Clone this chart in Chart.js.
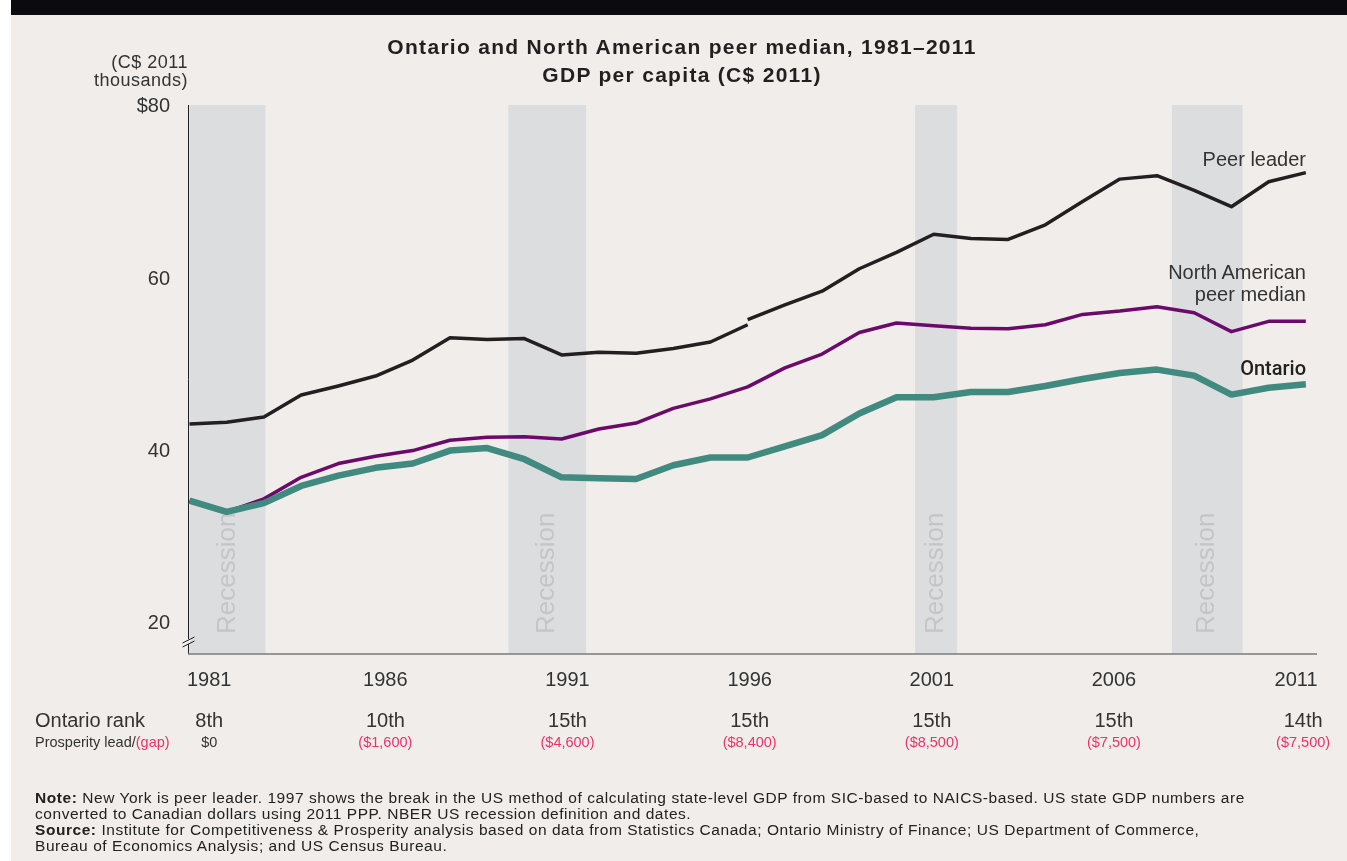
<!DOCTYPE html>
<html>
<head>
<meta charset="utf-8">
<script src="https://cdn.jsdelivr.net/npm/chart.js@4.4.1/dist/chart.umd.min.js"></script>
<style>
  html,body{margin:0;padding:0;background:#fff;}
  #wrap{position:relative;width:1347px;height:861px;overflow:hidden;font-family:"Liberation Sans",Arial,sans-serif;color:#333;}
  .abs{position:absolute;white-space:nowrap;}
  .pink{color:#e8336d;}
</style>
</head>
<body>
<div id="wrap">
  <div class="abs" style="left:11px;top:0;width:1336px;height:15px;background:#0a0a0f;"></div>
  <div class="abs" style="left:11px;top:15px;width:1336px;height:846px;background:#f0edea;"></div>
  <canvas id="c" width="1347" height="861" style="position:absolute;left:0;top:0;"></canvas>

  <div class="abs" style="left:0;top:33px;width:1364px;text-align:center;font-weight:bold;font-size:21px;letter-spacing:1.3px;line-height:28px;color:#231f20;">Ontario and North American peer median, 1981–2011<br>GDP per capita (C$ 2011)</div>
  <div class="abs" style="left:0;top:53px;width:188px;text-align:right;font-size:18px;letter-spacing:0.5px;line-height:18px;color:#333;">(C$ 2011<br>thousands)</div>

  <div class="abs" style="left:900px;top:147px;width:406px;text-align:right;font-size:20px;line-height:24px;color:#333;">Peer leader</div>
  <div class="abs" style="left:900px;top:261px;width:406px;text-align:right;font-size:20px;line-height:22px;color:#333;">North American<br>peer median</div>
  <div class="abs" style="left:900px;top:356px;width:406px;text-align:right;font-size:20px;line-height:24px;color:#222;font-family:Roboto,'Liberation Sans',sans-serif;font-weight:500;">Ontario</div>

  <div class="abs" style="left:35px;top:708px;font-size:20px;line-height:24px;color:#333;">Ontario rank</div>
  <div class="abs" style="left:35px;top:732px;font-size:14.5px;line-height:20px;color:#333;">Prosperity lead/<span class="pink">(gap)</span></div>

  <div class="abs" style="left:35px;top:790px;font-size:15.5px;letter-spacing:0.55px;line-height:16px;color:#222;"><b>Note:</b> New York is peer leader. 1997 shows the break in the US method of calculating state-level GDP from SIC-based to NAICS-based. US state GDP numbers are<br>converted to Canadian dollars using 2011 PPP. NBER US recession definition and dates.<br><b>Source:</b> Institute for Competitiveness &amp; Prosperity analysis based on data from Statistics Canada; Ontario Ministry of Finance; US Department of Commerce,<br>Bureau of Economics Analysis; and US Census Bureau.</div>
</div>
<script>
// ---------- data ----------
const years = [1981,1982,1983,1984,1985,1986,1987,1988,1989,1990,1991,1992,1993,1994,1995,1996,1997,1998,1999,2000,2001,2002,2003,2004,2005,2006,2007,2008,2009,2010,2011];
const ontario = [34.3,33.0,34.0,36.0,37.2,38.1,38.6,40.1,40.4,39.1,37.0,36.9,36.8,38.4,39.3,39.3,40.6,41.9,44.4,46.3,46.3,46.9,46.9,47.6,48.4,49.1,49.5,48.8,46.6,47.4,47.8];
const peerMedian = [34.3,33.0,34.5,37.0,38.6,39.45,40.1,41.3,41.65,41.7,41.45,42.6,43.3,45.0,46.1,47.5,49.7,51.3,53.8,54.9,54.6,54.3,54.25,54.7,55.9,56.3,56.8,56.1,53.9,55.1,55.1];
const yearsSIC = [1981,1982,1983,1984,1985,1986,1987,1988,1989,1990,1991,1992,1993,1994,1995,1996];
const peerLeaderSIC = [43.2,43.4,44.0,46.55,47.6,48.75,50.6,53.2,53.0,53.1,51.2,51.5,51.4,51.95,52.7,54.7];
const yearsNAICS = [1996,1997,1998,1999,2000,2001,2002,2003,2004,2005,2006,2007,2008,2009,2010,2011];
const peerLeaderNAICS = [55.3,57.0,58.6,61.2,63.1,65.2,64.7,64.6,66.3,69.0,71.6,72.0,70.3,68.4,71.3,72.35];
const recessionStart = [1981.0,1989.57,2000.5,2007.4];
const recessionEnd = [1983.04,1991.66,2001.63,2009.3];
const xTickYears = [1981,1986,1991,1996,2001,2006,2011];
const yTicks = [20,40,60,80];
const ranks = ["8th","10th","15th","15th","15th","15th","14th"];
const gaps = ["$0","($1,600)","($4,600)","($8,400)","($8,500)","($7,500)","($7,500)"];

const pts = (xs, ys) => xs.map((x,i)=>({x:x,y:ys[i]}));
const FONT = "'Liberation Sans', Arial, sans-serif";

const decor = {
  id:'decor',
  beforeDatasetsDraw(chart){
    const {ctx, chartArea:a, scales:{x}} = chart;
    ctx.save();
    for(let i=0;i<recessionStart.length;i++){
      const x0 = Math.max(a.left, x.getPixelForValue(recessionStart[i]));
      const x1 = x.getPixelForValue(recessionEnd[i]);
      ctx.fillStyle = '#dcdddf';
      ctx.fillRect(x0, a.top, x1-x0, a.bottom-a.top);
      ctx.save();
      ctx.translate((x0+x1)/2, 634);
      ctx.rotate(-Math.PI/2);
      ctx.fillStyle = '#c4c5c8';
      ctx.font = '26px ' + FONT;
      ctx.textAlign = 'left';
      ctx.textBaseline = 'middle';
      ctx.fillText('Recession', 0, 0);
      ctx.restore();
    }
    ctx.strokeStyle = '#231f20';
    ctx.lineWidth = 1;
    ctx.beginPath();
    ctx.moveTo(a.left+0.5, a.top);
    ctx.lineTo(a.left+0.5, a.bottom);
    ctx.stroke();
    ctx.strokeStyle = '#7a7a7a';
    ctx.lineWidth = 1.5;
    ctx.beginPath();
    ctx.moveTo(a.left, a.bottom);
    ctx.lineTo(a.right, a.bottom);
    ctx.stroke();
    const bx = a.left+0.5, by = a.bottom - 12;
    ctx.fillStyle = '#f0edea';
    ctx.fillRect(bx-2, by-3, 4, 5);
    ctx.strokeStyle = '#231f20';
    ctx.lineWidth = 1;
    ctx.beginPath();
    ctx.moveTo(bx-6, by+1); ctx.lineTo(bx+6, by-5);
    ctx.moveTo(bx-6, by+5); ctx.lineTo(bx+6, by-1);
    ctx.stroke();
    ctx.restore();
  }
};

const chart = new Chart(document.getElementById('c'), {
  type:'line',
  data:{
    datasets:[
      {label:'Ontario', data:pts(years, ontario), borderColor:'#408a80', borderWidth:6.5, order:0},
      {label:'North American peer median', data:pts(years, peerMedian), borderColor:'#6b0a6a', borderWidth:3.5, order:1},
      {label:'Peer leader (SIC)', data:pts(yearsSIC, peerLeaderSIC), borderColor:'#231f20', borderWidth:3.5, order:2},
      {label:'Peer leader (NAICS)', data:pts(yearsNAICS, peerLeaderNAICS), borderColor:'#231f20', borderWidth:3.5, order:3}
    ]
  },
  options:{
    responsive:false, animation:false, devicePixelRatio:1,
    layout:{padding:{left:0, top:105, right:30, bottom:0}},
    plugins:{legend:{display:false}, tooltip:{enabled:false}, title:{display:false}},
    elements:{point:{radius:0}, line:{tension:0, borderJoinStyle:'round', borderCapStyle:'butt', fill:false}},
    scales:{
      x:{type:'linear', min:1980.96, max:2011.3,
         grid:{display:false, drawTicks:false}, border:{display:false},
         ticks:{display:false},
         afterFit(s){ s.height = 207; }},
      y:{type:'linear', min:16.5, max:80.2,
         afterBuildTicks(s){ s.ticks = yTicks.map(v=>({value:v})); },
         grid:{display:false, drawTicks:false}, border:{display:false},
         ticks:{padding:18, color:'#333', font:{family:FONT, size:20},
                callback:(v)=> v===80 ? '$80' : String(v)},
         afterFit(s){ s.width = 188; }}
    }
  },
  plugins:[decor]
});

const xs = chart.scales.x;
const wrap = document.getElementById('wrap');
const mid = xs.getPixelForValue(1996);
function labelX(yr){ return mid + (xs.getPixelForValue(yr) - mid) * 0.979 + 2; }
function addText(txt, cx, top, size, color, lh){
  const d = document.createElement('div');
  d.className = 'abs';
  d.style.left = (cx - 100) + 'px';
  d.style.width = '200px';
  d.style.textAlign = 'center';
  d.style.top = top + 'px';
  d.style.fontSize = size + 'px';
  d.style.lineHeight = lh + 'px';
  d.style.color = color;
  d.textContent = txt;
  wrap.appendChild(d);
}
xTickYears.forEach((yr,i)=>{
  const cx = labelX(yr) + (i===0 ? 6 : 0);
  addText(String(yr), cx, 667, 20, '#333', 24);
  const rx = cx + (i===xTickYears.length-1 ? 7 : 0);
  addText(ranks[i], rx, 708, 20, '#333', 24);
  addText(gaps[i], rx, 732, 14.5, gaps[i].startsWith('(') ? '#e8336d' : '#333', 20);
});
</script>
</body>
</html>
